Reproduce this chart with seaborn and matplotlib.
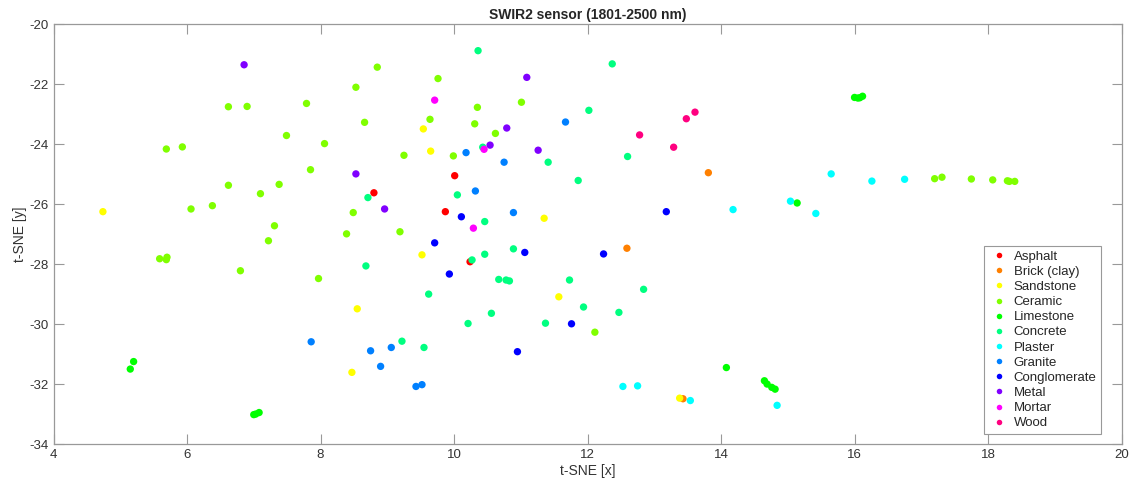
import matplotlib
matplotlib.use("Agg")
import matplotlib.pyplot as plt
import seaborn as sns
import pandas as pd

categories = ["Asphalt", "Brick (clay)", "Sandstone", "Ceramic", "Limestone", "Concrete",
              "Plaster", "Granite", "Conglomerate", "Metal", "Mortar", "Wood"]
colors = ["#FF0000", "#FF8000", "#FFFF00", "#80FF00", "#00FF00", "#00FF80",
          "#00FFFF", "#0080FF", "#0000FF", "#8000FF", "#FF00FF", "#FF0080"]

asphalt_x = [10.01, 8.80, 9.87, 10.24]
asphalt_y = [-25.05, -25.62, -26.25, -27.92]

brick_x = [13.81, 12.59, 13.43]
brick_y = [-24.95, -27.47, -32.49]

sandstone_x = [4.74, 9.54, 9.65, 11.35, 9.52, 11.57, 8.55, 8.47, 13.38]
sandstone_y = [-26.25, -23.49, -24.23, -26.47, -27.69, -29.09, -29.49, -31.61, -32.47]

ceramic_x = [6.62, 6.90, 7.79, 7.49, 8.06, 5.69, 5.93, 7.85, 6.62, 7.38, 7.10, 6.06, 6.38,
             7.31, 7.22, 5.59, 5.70, 5.69, 6.80, 7.97, 8.85, 8.53, 9.76, 10.35, 11.01,
             8.66, 9.64, 10.31, 10.62, 9.25, 9.99, 8.49, 8.39, 9.19, 12.11,
             17.20, 17.31, 17.75, 18.07, 18.29, 18.32, 18.40]
ceramic_y = [-22.75, -22.74, -22.64, -23.71, -23.98, -24.16, -24.09, -24.85, -25.37, -25.34,
             -25.65, -26.16, -26.05, -26.72, -27.22, -27.82, -27.77, -27.85, -28.22, -28.48,
             -21.43, -22.10, -21.81, -22.77, -22.60, -23.27, -23.17, -23.32, -23.64, -24.37,
             -24.39, -26.28, -26.99, -26.92, -30.27,
             -25.15, -25.10, -25.16, -25.19, -25.22, -25.24, -25.24]

limestone_x = [5.20, 5.15, 7.00, 7.03, 7.08, 16.00, 16.05, 16.08, 16.12, 15.14,
               14.08, 14.65, 14.69, 14.76, 14.81]
limestone_y = [-31.25, -31.50, -33.02, -33.00, -32.95, -22.44, -22.46, -22.45, -22.40, -25.96,
               -31.45, -31.89, -32.00, -32.11, -32.17]

concrete_x = [10.36, 12.37, 12.02, 10.43, 11.41, 12.60, 11.86, 8.71, 10.05, 10.46, 8.68,
              10.27, 10.46, 10.89, 10.67, 10.78, 10.83, 11.73, 9.62, 11.94, 12.47, 10.56,
              10.21, 11.37, 9.22, 9.55, 12.84]
concrete_y = [-20.88, -21.32, -22.87, -24.10, -24.60, -24.41, -25.21, -25.78, -25.69, -26.58,
              -28.06, -27.86, -27.67, -27.49, -28.51, -28.53, -28.56, -28.53, -29.00, -29.43,
              -29.61, -29.64, -29.98, -29.97, -30.57, -30.78, -28.84]

plaster_x = [15.65, 16.26, 16.75, 15.04, 15.42, 14.18, 12.53, 12.75, 13.54, 14.84]
plaster_y = [-24.99, -25.23, -25.17, -25.90, -26.31, -26.18, -32.08, -32.06, -32.55, -32.71]

granite_x = [11.67, 10.18, 10.75, 10.32, 10.89, 7.86, 8.75, 9.06, 8.90, 9.43, 9.52]
granite_y = [-23.26, -24.28, -24.60, -25.56, -26.28, -30.59, -30.89, -30.78, -31.41, -32.08, -32.02]

conglomerate_x = [10.11, 9.71, 11.06, 12.24, 9.93, 11.76, 10.95, 13.18]
conglomerate_y = [-26.42, -27.29, -27.61, -27.66, -28.33, -29.99, -30.92, -26.25]

metal_x = [6.855, 11.09, 10.79, 10.54, 11.26, 8.53, 8.96]
metal_y = [-21.35, -21.77, -23.46, -24.03, -24.20, -24.99, -26.16]

mortar_x = [9.71, 10.45, 10.29]
mortar_y = [-22.53, -24.17, -26.80]

wood_x = [13.61, 13.48, 12.78, 13.29]
wood_y = [-22.93, -23.15, -23.69, -24.10]

xs = [asphalt_x, brick_x, sandstone_x, ceramic_x, limestone_x, concrete_x,
      plaster_x, granite_x, conglomerate_x, metal_x, mortar_x, wood_x]
ys = [asphalt_y, brick_y, sandstone_y, ceramic_y, limestone_y, concrete_y,
      plaster_y, granite_y, conglomerate_y, metal_y, mortar_y, wood_y]

rows = []
for cat, xl, yl in zip(categories, xs, ys):
    for a, b in zip(xl, yl):
        rows.append({"x": a, "y": b, "Material": cat})
df = pd.DataFrame(rows)

sns.set_style("white")
plt.rcParams["font.family"] = ["Liberation Sans", "DejaVu Sans"]
plt.rcParams["axes.unicode_minus"] = False

fig = plt.figure(figsize=(11.29, 4.82), dpi=100)
ax = fig.add_axes([0.0474, 0.0788, 0.946, 0.8708])

sns.scatterplot(data=df, x="x", y="y", hue="Material", hue_order=categories,
                palette=dict(zip(categories, colors)), s=28, linewidth=0, ax=ax)

ax.set_xlim(4, 20)
ax.set_ylim(-34, -20)
ax.set_xticks(range(4, 21, 2))
ax.set_yticks(range(-34, -19, 2))
ax.tick_params(direction="in", length=7.5, width=0.8, color="#999999",
               labelcolor="#333333", labelsize=9.5, top=True, right=True,
               bottom=True, left=True)
for sp in ax.spines.values():
    sp.set_color("#999999")
    sp.set_linewidth(0.9)

ax.set_xlabel("t-SNE [x]", fontsize=10, color="#333333", labelpad=2)
ax.set_ylabel("t-SNE [y]", fontsize=10, color="#333333", labelpad=2)
ax.set_title("SWIR2 sensor (1801-2500 nm)", fontsize=10, fontweight="bold", pad=4)

leg = ax.legend(loc="lower right", bbox_to_anchor=(0.981, 0.024), borderaxespad=0,
                fontsize=9.5, frameon=True, fancybox=False, framealpha=1,
                edgecolor="#999999", markerscale=0.75, labelspacing=0.22,
                handletextpad=0.3, handlelength=1.6, borderpad=0.35)
leg.get_frame().set_linewidth(0.8)

fig.savefig("out.png", dpi=100)
